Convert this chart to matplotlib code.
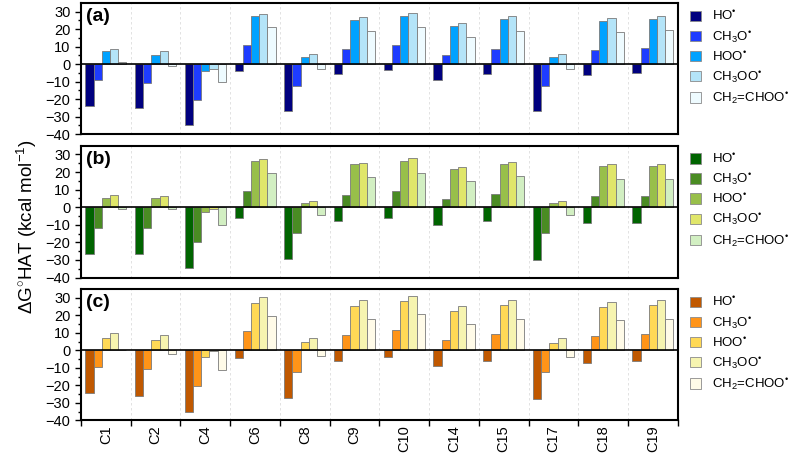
import matplotlib.pyplot as plt
import numpy as np
from matplotlib.patches import Patch

plt.rcParams['font.family'] = ['Liberation Sans', 'DejaVu Sans']
plt.rcParams['mathtext.fontset'] = 'custom'
plt.rcParams['mathtext.rm'] = 'Liberation Sans'
plt.rcParams['mathtext.it'] = 'Liberation Sans:italic'

sites = ['C1', 'C2', 'C4', 'C6', 'C8', 'C9', 'C10', 'C14', 'C15', 'C17', 'C18', 'C19']
radicals = ['HO$^{•}$', 'CH$_3$O$^{•}$', 'HOO$^{•}$',
            'CH$_3$OO$^{•}$', 'CH$_2$=CHOO$^{•}$']

# panel (a)
a_HO = [-23.8, -25.3, -35.1, -3.8, -27.0, -5.8, -3.4, -9.0, -5.7, -27.0, -6.4, -5.1]
a_CH3O = [-9.2, -10.9, -20.8, 10.8, -12.5, 8.5, 11.1, 5.5, 8.9, -12.6, 8.1, 9.4]
a_HOO = [7.4, 5.5, -4.0, 27.4, 4.2, 25.3, 27.7, 22.0, 25.7, 4.0, 24.7, 25.8]
a_CH3OO = [8.9, 7.4, -2.5, 29.0, 6.0, 27.0, 29.4, 23.8, 27.4, 5.7, 26.4, 27.7]
a_CH2 = [1.1, -0.8, -10.5, 21.1, -2.6, 19.1, 21.5, 15.8, 19.2, -2.5, 18.5, 19.6]

# panel (b)
b_HO = [-26.4, -26.4, -34.7, -5.9, -29.4, -7.8, -5.9, -10.4, -7.8, -29.8, -8.7, -8.9]
b_CH3O = [-11.6, -11.6, -19.9, 9.1, -14.6, 7.0, 9.1, 4.7, 7.4, -14.8, 6.3, 6.1]
b_HOO = [5.5, 5.5, -2.7, 26.0, 2.5, 24.3, 26.2, 21.6, 24.3, 2.3, 23.3, 23.3]
b_CH3OO = [6.8, 6.6, -1.1, 27.3, 3.8, 25.4, 27.7, 23.1, 25.6, 3.4, 24.7, 24.5]
b_CH2 = [-1.1, -1.1, -9.9, 19.2, -4.6, 17.3, 19.2, 14.8, 17.6, -4.7, 16.3, 15.9]

# panel (c)
c_HO = [-24.5, -25.8, -35.1, -4.4, -27.1, -6.1, -3.8, -9.1, -6.1, -27.5, -7.0, -6.1]
c_CH3O = [-9.3, -10.8, -20.3, 10.8, -12.1, 8.9, 11.4, 6.1, 9.1, -12.3, 8.2, 9.1]
c_HOO = [7.2, 5.9, -3.6, 27.1, 4.6, 25.4, 27.9, 22.6, 25.8, 4.4, 24.9, 25.8]
c_CH3OO = [10.1, 8.9, -0.5, 30.4, 7.2, 28.5, 30.9, 25.6, 28.8, 7.2, 27.7, 28.8]
c_CH2 = [0.3, -1.9, -11.0, 19.7, -3.2, 17.8, 20.5, 15.2, 18.0, -3.6, 17.1, 18.0]

colors_a = ['#00007f', '#1e3cff', '#00a2ff', '#b4e4f8', '#eefbff']
colors_b = ['#006400', '#4a8c23', '#98bf4a', '#e0e66a', '#d2efc2']
colors_c = ['#c05800', '#ff9418', '#ffd956', '#f6f4b0', '#fffbe8']

panels = [
    ('(a)', [a_HO, a_CH3O, a_HOO, a_CH3OO, a_CH2], colors_a),
    ('(b)', [b_HO, b_CH3O, b_HOO, b_CH3OO, b_CH2], colors_b),
    ('(c)', [c_HO, c_CH3O, c_HOO, c_CH3OO, c_CH2], colors_c),
]

fig = plt.figure(figsize=(7.9, 4.58), dpi=100)
rects = [[0.1025, 0.7074, 0.7555, 0.286],
         [0.1025, 0.394, 0.7555, 0.288],
         [0.1025, 0.0819, 0.7555, 0.287]]

x = np.arange(len(sites))
w = 0.165
for k, (tag, series, cols) in enumerate(panels):
    ax = fig.add_axes(rects[k])
    for i, vals in enumerate(series):
        ax.bar(x + (i - 2) * w, vals, w, color=cols[i],
               edgecolor='#7a7a7a', linewidth=0.6, zorder=3)
    ax.axhline(0, color='black', lw=1.2, zorder=4)
    ax.set_xlim(-0.5, len(sites) - 0.5)
    ax.set_ylim(-40, 35)
    ax.set_yticks([-40, -30, -20, -10, 0, 10, 20, 30])
    ax.set_yticks(np.arange(-35, 35, 10), minor=True)
    ax.tick_params(axis='y', labelsize=10.5, length=4, width=1, direction='out')
    ax.tick_params(axis='y', which='minor', length=2.5, width=1)
    ax.set_xticks(x)
    ax.set_xticks(np.arange(-0.5, len(sites), 1), minor=True)
    ax.grid(axis='x', which='minor', ls=(0, (3, 3)), color='#dddddd', lw=0.6, zorder=0)
    ax.tick_params(axis='x', which='major', length=0)
    if k == 2:
        ax.set_xticklabels(sites, rotation=90, fontsize=10.5)
        ax.tick_params(axis='x', which='minor', length=4, width=1, direction='out')
    else:
        ax.set_xticklabels([])
        ax.tick_params(axis='x', which='minor', length=0)
    for s in ax.spines.values():
        s.set_linewidth(1.5)
    ax.text(0.008, 0.96, tag, transform=ax.transAxes, fontsize=14,
            fontweight='bold', va='top', ha='left')
    handles = [Patch(facecolor=cols[i], edgecolor='#8a8a8a', linewidth=0.6)
               for i in range(5)]
    ax.legend(handles, radicals, loc='upper left', bbox_to_anchor=(1.005, 1.02),
              frameon=False, fontsize=9.5, handlelength=0.85, handleheight=0.85,
              handletextpad=0.8, labelspacing=0.4, borderaxespad=0.3)

fig.text(0.034, 0.505, r'$\Delta$G$^{\circ}$HAT (kcal mol$^{-1}$)', rotation=90,
         va='center', ha='center', fontsize=13.5)

fig.savefig('out.png', dpi=100)
